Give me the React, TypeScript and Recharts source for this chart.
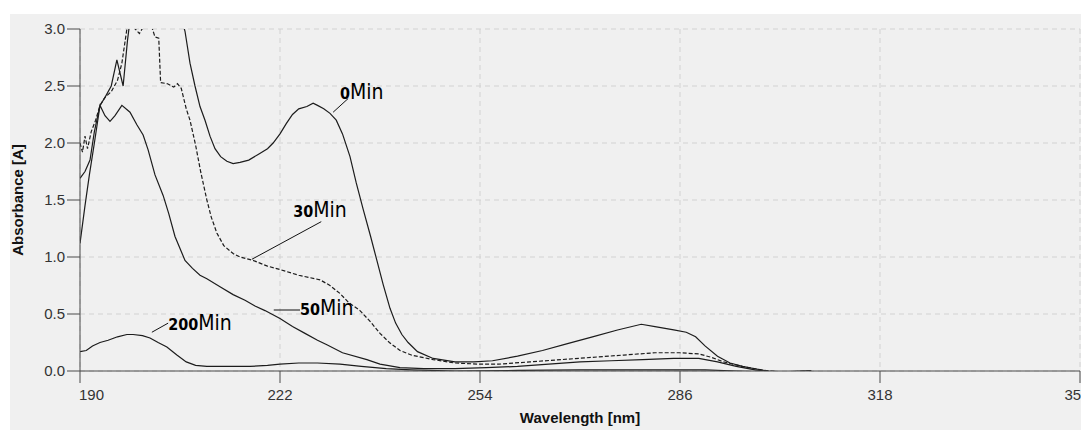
import React from 'react';
import { LineChart, Line, XAxis, YAxis, CartesianGrid, ReferenceLine, ReferenceDot } from 'recharts';

// [wavelength nm, absorbance A]
const min0: [number, number][] = [
  [190, 1.12], [190.8, 1.45], [191.5, 1.72], [192.3, 2.0], [193.2, 2.33], [194, 2.4], [195, 2.5],
  [195.9, 2.73], [196.9, 2.5], [197.6, 2.9], [198.5, 3.3], [200, 3.6], [203, 3.8], [205, 3.5],
  [206.2, 3.1], [206.8, 2.98], [207.6, 2.7], [208.4, 2.5], [209.2, 2.32], [210, 2.2], [210.8, 2.06],
  [211.6, 1.95], [212.5, 1.88], [213.5, 1.84], [214.5, 1.82], [215.6, 1.83], [217, 1.85], [218.5, 1.9],
  [220, 1.95], [220.9, 2.0], [222, 2.08], [223, 2.17], [224, 2.25], [225, 2.3], [226.3, 2.32],
  [227.3, 2.35], [228, 2.33], [229, 2.3], [230, 2.26], [231, 2.2], [232, 2.08], [233.2, 1.88],
  [234.2, 1.65], [235.3, 1.42], [236.5, 1.18], [237.5, 0.97], [238.5, 0.76], [239.6, 0.55],
  [240.5, 0.42], [241.5, 0.32], [242.5, 0.25], [244, 0.17], [246.5, 0.11], [250, 0.08], [253, 0.08],
  [256, 0.09], [260, 0.13], [264, 0.18], [268, 0.24], [272, 0.3], [276, 0.36], [279.8, 0.41],
  [282, 0.39], [285, 0.36], [287, 0.34], [288.5, 0.3], [290, 0.22], [292, 0.13], [294, 0.07],
  [296, 0.04], [298, 0.02], [300, 0.0], [303, -0.01], [307, 0.0],
];

const min30: [number, number][] = [
  [190, 2.0], [190.4, 1.92], [190.8, 2.06], [191.2, 1.95], [191.8, 2.1], [192.5, 2.2], [193.2, 2.33],
  [194, 2.4], [195, 2.45], [196, 2.55], [196.7, 2.7], [197.5, 3.0], [198.5, 3.02], [199.5, 2.96],
  [201, 3.1], [202, 2.93], [202.6, 2.92], [202.9, 2.53], [204, 2.52], [205, 2.49], [205.6, 2.52],
  [206.2, 2.48], [207, 2.3], [207.6, 2.2], [208.5, 1.98], [209.3, 1.75], [210.3, 1.5], [211, 1.35],
  [211.9, 1.21], [213, 1.1], [214.5, 1.03], [215.6, 1.0], [217.7, 0.97], [220, 0.92], [222, 0.89],
  [225, 0.84], [228.4, 0.8], [230, 0.75], [231.6, 0.68], [233, 0.6], [234.8, 0.53], [236.5, 0.43],
  [238, 0.33], [239.5, 0.25], [241.2, 0.18], [243, 0.14], [246.5, 0.1], [250, 0.07], [254, 0.06],
  [257, 0.06], [262, 0.08], [267, 0.1], [272, 0.12], [277, 0.14], [282, 0.16], [286, 0.16],
  [289, 0.15], [291, 0.12], [293, 0.08], [296, 0.04], [299, 0.01], [302, -0.01], [307, 0.0],
];

const min50: [number, number][] = [
  [190, 1.69], [190.8, 1.75], [191.6, 1.85], [192.3, 2.1], [193.2, 2.33], [194, 2.24], [194.8, 2.19],
  [195.6, 2.24], [196.7, 2.33], [198, 2.27], [199.1, 2.16], [200.1, 2.07], [200.9, 1.94], [202, 1.72],
  [203.3, 1.54], [204.2, 1.38], [205.2, 1.18], [206.8, 0.97], [208, 0.9], [209.2, 0.84], [210.3, 0.81],
  [212.4, 0.74], [214.5, 0.67], [216.4, 0.62], [218, 0.57], [219.6, 0.53], [222, 0.46], [224, 0.39],
  [226, 0.33], [228, 0.27], [229.5, 0.23], [232, 0.16], [235.9, 0.1], [238, 0.06], [241.2, 0.03],
  [245, 0.02], [250, 0.02], [255, 0.03], [260, 0.04], [265, 0.06], [270, 0.08], [275, 0.09],
  [280, 0.1], [285, 0.11], [289, 0.11], [292, 0.08], [295, 0.04], [298, 0.01], [301, -0.01], [307, 0.0],
];

const min200: [number, number][] = [
  [190, 0.17], [191, 0.18], [192, 0.22], [193.2, 0.25], [194.5, 0.27], [196, 0.3], [197.5, 0.32],
  [198.5, 0.32], [200, 0.31], [201.2, 0.29], [202.5, 0.25], [203.9, 0.21], [205.5, 0.14], [207, 0.08],
  [208.5, 0.05], [210.3, 0.04], [214, 0.04], [217.2, 0.04], [220, 0.05], [222, 0.06], [225, 0.07],
  [228, 0.07], [231.6, 0.06], [235, 0.04], [239, 0.02], [243, 0.01], [250, 0.0], [260, 0.005],
  [270, 0.01], [280, 0.01], [290, 0.01], [295, 0.0], [300, -0.01], [307, 0.0],
];

const xTicks = [190, 222, 254, 286, 318, 350];
const yTicks = [0, 0.5, 1, 1.5, 2, 2.5, 3];

// curve labels: prefix digits, text anchor [nm, A], leader line ends
const curveLabels = [
  { digits: '0', at: [231.6, 2.386], leader: [[230.5, 2.27], [232.9, 2.39]] },
  { digits: '30', at: [224.1, 1.35], leader: [[217.5, 0.98], [228.6, 1.31]] },
  { digits: '50', at: [225.2, 0.49], leader: [[221.0, 0.535], [225.2, 0.535]] },
  { digits: '200', at: [204.1, 0.36], leader: [[201.5, 0.34], [204.1, 0.42]] },
];

const toPoints = (arr: [number, number][]) => arr.map(([x, y]) => ({ x, y }));

const tickFont = '"Liberation Sans", Arial, sans-serif';
const condFont = '"DejaVu Sans Condensed", "DejaVu Sans", sans-serif';
const ink = '#1c1c1c';

const XTick = (props: any) => {
  const { x, y, payload } = props;
  const first = payload.value === xTicks[0];
  return (
    <text x={first ? x - 1 : x} y={y + 15} textAnchor={first ? 'start' : 'middle'} fontFamily={tickFont} fontSize={15} fill="#333">
      {payload.value}
    </text>
  );
};

const YTick = (props: any) => {
  const { x, y, payload } = props;
  return (
    <text x={x} y={y + 5} textAnchor="end" fontFamily={tickFont} fontSize={15} fill="#333">
      {Number(payload.value).toFixed(1)}
    </text>
  );
};

export default function App() {
  return (
    <div style={{ position: 'relative', width: 1081, height: 422, background: '#fff' }}>
      <div style={{ position: 'absolute', left: 2, top: 6, right: 0, bottom: 0, background: '#f0f0f0' }} />
      <div style={{ position: 'absolute', left: 0, top: 0 }}>
        <LineChart width={1081} height={422} margin={{ top: 21, right: 9, left: 0, bottom: 0 }} style={{ overflow: 'visible' }}>
          <CartesianGrid stroke="#d2d2d2" strokeDasharray="5 4" />
          <XAxis
            type="number"
            dataKey="x"
            domain={[190, 350]}
            ticks={xTicks}
            allowDataOverflow
            height={59}
            tickSize={12}
            stroke="#4a4a4a"
            tick={<XTick />}
            label={{
              content: (p: any) => (
                <text
                  x={p.viewBox ? p.viewBox.x + p.viewBox.width / 2 : 572}
                  y={p.viewBox ? p.viewBox.y + 52 : 415}
                  textAnchor="middle"
                  fontFamily={tickFont}
                  fontWeight="bold"
                  fontSize={15}
                  fill="#111"
                >
                  Wavelength [nm]
                </text>
              ),
            }}
          />
          <YAxis
            type="number"
            dataKey="y"
            domain={[0, 3]}
            ticks={yTicks}
            allowDataOverflow
            width={72}
            tickSize={13}
            tickMargin={2}
            stroke="#4a4a4a"
            tick={<YTick />}
            label={{
              content: (p: any) => {
                const cy = p.viewBox ? p.viewBox.y + p.viewBox.height / 2 : 192;
                return (
                  <text
                    x={15}
                    y={cy}
                    transform={`rotate(-90 15 ${cy})`}
                    textAnchor="middle"
                    fontFamily={tickFont}
                    fontWeight="bold"
                    fontSize={15}
                    fill="#111"
                  >
                    Absorbance [A]
                  </text>
                );
              },
            }}
          />
          <Line data={toPoints(min0)} dataKey="y" type="linear" stroke={ink} strokeWidth={1.2} dot={false} isAnimationActive={false} />
          <Line data={toPoints(min30)} dataKey="y" type="linear" stroke={ink} strokeWidth={1.2} strokeDasharray="4 2" dot={false} isAnimationActive={false} />
          <Line data={toPoints(min50)} dataKey="y" type="linear" stroke={ink} strokeWidth={1.2} dot={false} isAnimationActive={false} />
          <Line data={toPoints(min200)} dataKey="y" type="linear" stroke={ink} strokeWidth={1.2} dot={false} isAnimationActive={false} />
          {curveLabels.map((l) => (
            <ReferenceLine
              key={'lead' + l.digits}
              segment={[{ x: l.leader[0][0], y: l.leader[0][1] }, { x: l.leader[1][0], y: l.leader[1][1] }]}
              stroke="#111"
              strokeWidth={1}
              ifOverflow="visible"
            />
          ))}
          {curveLabels.map((l) => (
            <ReferenceDot
              key={'lab' + l.digits}
              x={l.at[0]}
              y={l.at[1]}
              r={0}
              fill="none"
              stroke="none"
              ifOverflow="visible"
              label={{
                content: (p: any) => (
                  <text x={p.viewBox.x} y={p.viewBox.y} fill="#000">
                    <tspan fontFamily={condFont} fontWeight="bold" fontSize={16}>
                      {l.digits}
                    </tspan>
                    <tspan fontFamily={condFont} fontSize={21}>Min</tspan>
                  </text>
                ),
              }}
            />
          ))}
        </LineChart>
      </div>
    </div>
  );
}
